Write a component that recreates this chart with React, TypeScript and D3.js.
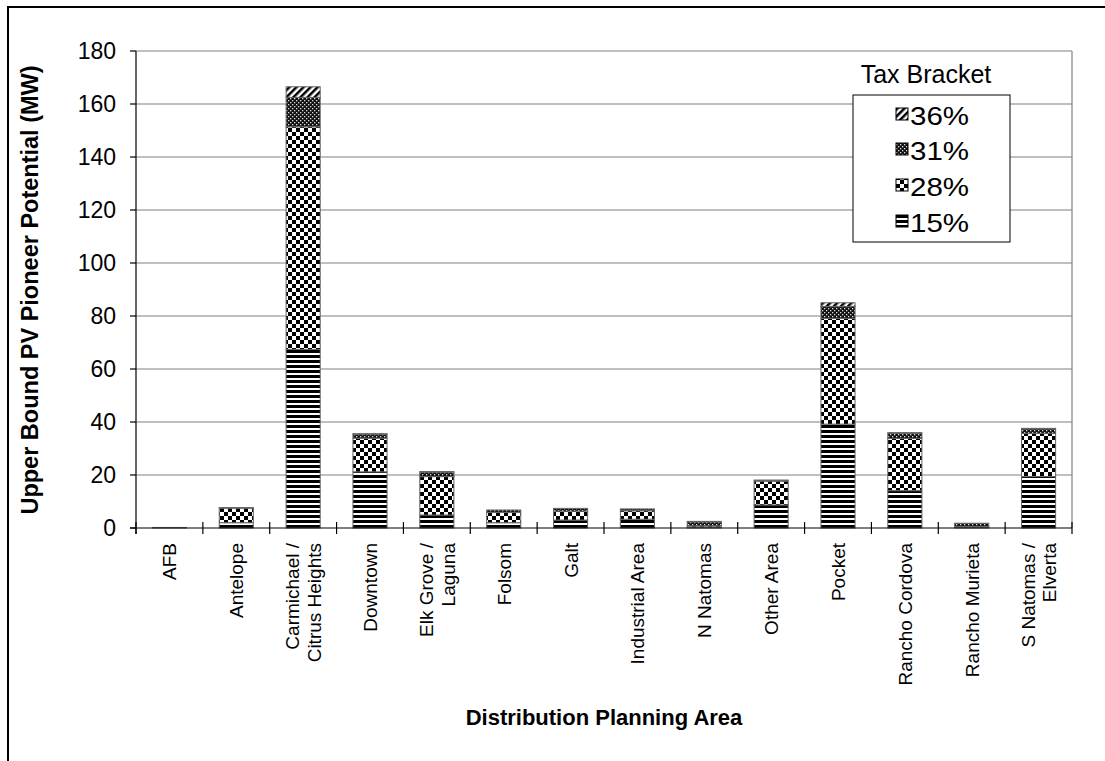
import React from "react";
import * as d3 from "d3";

const categories = [
  "AFB",
  "Antelope",
  "Carmichael / Citrus Heights",
  "Downtown",
  "Elk Grove / Laguna",
  "Folsom",
  "Galt",
  "Industrial Area",
  "N Natomas",
  "Other Area",
  "Pocket",
  "Rancho Cordova",
  "Rancho Murieta",
  "S Natomas / Elverta",
];
const categoryLines = [
  ["AFB"],
  ["Antelope"],
  ["Carmichael /", "Citrus Heights"],
  ["Downtown"],
  ["Elk Grove /", "Laguna"],
  ["Folsom"],
  ["Galt"],
  ["Industrial Area"],
  ["N Natomas"],
  ["Other Area"],
  ["Pocket"],
  ["Rancho Cordova"],
  ["Rancho Murieta"],
  ["S Natomas /", "Elverta"],
];
const seriesNames = ["15%", "28%", "31%", "36%"];
const s15 = [0.2, 2.0, 67.4, 21.2, 4.9, 2.0, 3.0, 3.3, 0.3, 8.7, 39.2, 14.1, 0.2, 19.4];
const s28 = [0, 5.5, 84.0, 12.7, 14.5, 3.9, 3.4, 3.2, 0.5, 9.0, 39.9, 19.7, 0.4, 16.3];
const s31 = [0, 0.2, 11.1, 1.5, 1.7, 0.9, 1.0, 0.7, 1.5, 0.4, 4.5, 1.9, 1.2, 1.7];
const s36 = [0, 0, 4.0, 0.2, 0.2, 0, 0, 0, 0.2, 0, 1.4, 0.3, 0, 0.2];
const yTicks = [0, 20, 40, 60, 80, 100, 120, 140, 160, 180];
const yTitle = "Upper Bound PV Pioneer Potential (MW)";
const xTitle = "Distribution Planning Area";
const legendTitle = "Tax Bracket";

const FONT = "Arial, 'Liberation Sans', sans-serif";
const patternIds = ["p15", "p28", "p31", "p36"];

export default function App() {
  const left = 136, right = 1072, top = 51, bottom = 528;
  const x = d3.scaleBand<string>().domain(categories).range([left, right]).paddingInner(0.49).paddingOuter(0.245);
  const y = d3.scaleLinear().domain([0, 180]).range([bottom, top]);
  const step = x.step();
  const table = categories.map((c, i) => ({ cat: c, "15%": s15[i], "28%": s28[i], "31%": s31[i], "36%": s36[i] }));
  const stack = d3.stack<any>().keys(seriesNames)(table);
  const boundaries = d3.range(categories.length + 1).map((i) => left + i * step);

  const legendItems = ["36%", "31%", "28%", "15%"];
  const legendY = [125, 160, 196, 232];

  return (
    <svg width={1105} height={761} style={{ position: "absolute", left: 0, top: 0, background: "#fff" }} fontFamily={FONT}>
      <defs>
        <pattern id="p15" patternUnits="userSpaceOnUse" width={6} height={5}>
          <rect width={6} height={5} fill="#fff" />
          <rect y={0} width={6} height={3} fill="#000" />
        </pattern>
        <pattern id="p28" patternUnits="userSpaceOnUse" width={8} height={8}>
          <rect width={8} height={8} fill="#fff" />
          <rect x={0} y={0} width={4} height={4} fill="#000" />
          <rect x={4} y={4} width={4} height={4} fill="#000" />
        </pattern>
        <pattern id="p31" patternUnits="userSpaceOnUse" width={4} height={4}>
          <rect width={4} height={4} fill="#111" />
          <rect x={0} y={0} width={1.3} height={1.3} fill="#ddd" />
          <rect x={2} y={2} width={1.3} height={1.3} fill="#ddd" />
        </pattern>
        <pattern id="p36" patternUnits="userSpaceOnUse" width={5} height={5} patternTransform="rotate(45)">
          <rect width={5} height={5} fill="#fff" />
          <rect x={0} width={2.5} height={5} fill="#000" />
        </pattern>
      </defs>

      {/* outer border */}
      <rect x={8} y={7} width={1120} height={800} fill="none" stroke="#000" strokeWidth={2} />

      {/* gridlines */}
      {yTicks.filter((t) => t > 0).map((t) => (
        <line key={t} x1={left} x2={right} y1={y(t)} y2={y(t)} stroke="#808080" strokeWidth={1.2} />
      ))}
      <line x1={right} x2={right} y1={top} y2={bottom} stroke="#808080" strokeWidth={1.2} />

      {/* bars */}
      {stack.map((layer, si) => (
        <g key={seriesNames[si]}>
          {layer.map((d, i) => {
            const h = y(d[0]) - y(d[1]);
            if (h <= 0.05) return null;
            return (
              <rect
                key={i}
                x={x(categories[i])!}
                y={y(d[1])}
                width={x.bandwidth()}
                height={h}
                fill={`url(#${patternIds[si]})`}
                stroke="#666"
                strokeWidth={1}
              />
            );
          })}
        </g>
      ))}

      {/* axes */}
      <line x1={left} x2={left} y1={top} y2={bottom + 6} stroke="#000" strokeWidth={1.2} />
      <line x1={left - 6} x2={right} y1={bottom} y2={bottom} stroke="#000" strokeWidth={1.2} />
      {yTicks.map((t) => (
        <g key={t}>
          <line x1={left - 6} x2={left} y1={y(t)} y2={y(t)} stroke="#000" strokeWidth={1.2} />
          <text x={116} y={y(t)} dy="0.36em" textAnchor="end" fontSize={23} fill="#000">
            {t}
          </text>
        </g>
      ))}
      {boundaries.map((bx, i) => (
        <line key={i} x1={bx} x2={bx} y1={bottom - 6} y2={bottom + 6} stroke="#000" strokeWidth={1.2} />
      ))}
      {categoryLines.map((lines, i) => {
        const cx = x(categories[i])! + x.bandwidth() / 2;
        const n = lines.length;
        return (
          <g key={i}>
            {lines.map((ln, j) => {
              const lx = cx + (j - (n - 1) / 2) * 21.7 + 7;
              return (
                <text
                  key={j}
                  transform={`translate(${lx},${543}) rotate(-90)`}
                  textAnchor="end"
                  fontSize={19}
                  fill="#000"
                >
                  {ln}
                </text>
              );
            })}
          </g>
        );
      })}

      {/* axis titles */}
      <text transform={`translate(38,290) rotate(-90)`} textAnchor="middle" fontSize={23.5} fontWeight="bold" fill="#000">
        {yTitle}
      </text>
      <text x={604} y={725} textAnchor="middle" fontSize={22} fontWeight="bold" fill="#000">
        {xTitle}
      </text>

      {/* legend */}
      <text x={926} y={83} textAnchor="middle" fontSize={25} fill="#000">
        {legendTitle}
      </text>
      <rect x={853} y={95} width={157} height={147} fill="#fff" stroke="#000" strokeWidth={1} />
      {legendItems.map((name, i) => {
        const si = seriesNames.indexOf(name);
        return (
          <g key={name}>
            <rect x={896} y={legendY[i] - 17} width={12} height={12} fill={`url(#${patternIds[si]})`} stroke="#000" strokeWidth={1} />
            <text transform={`translate(910,${legendY[i]}) scale(1.18,1)`} fontSize={25} fill="#000">
              {name}
            </text>
          </g>
        );
      })}
    </svg>
  );
}
